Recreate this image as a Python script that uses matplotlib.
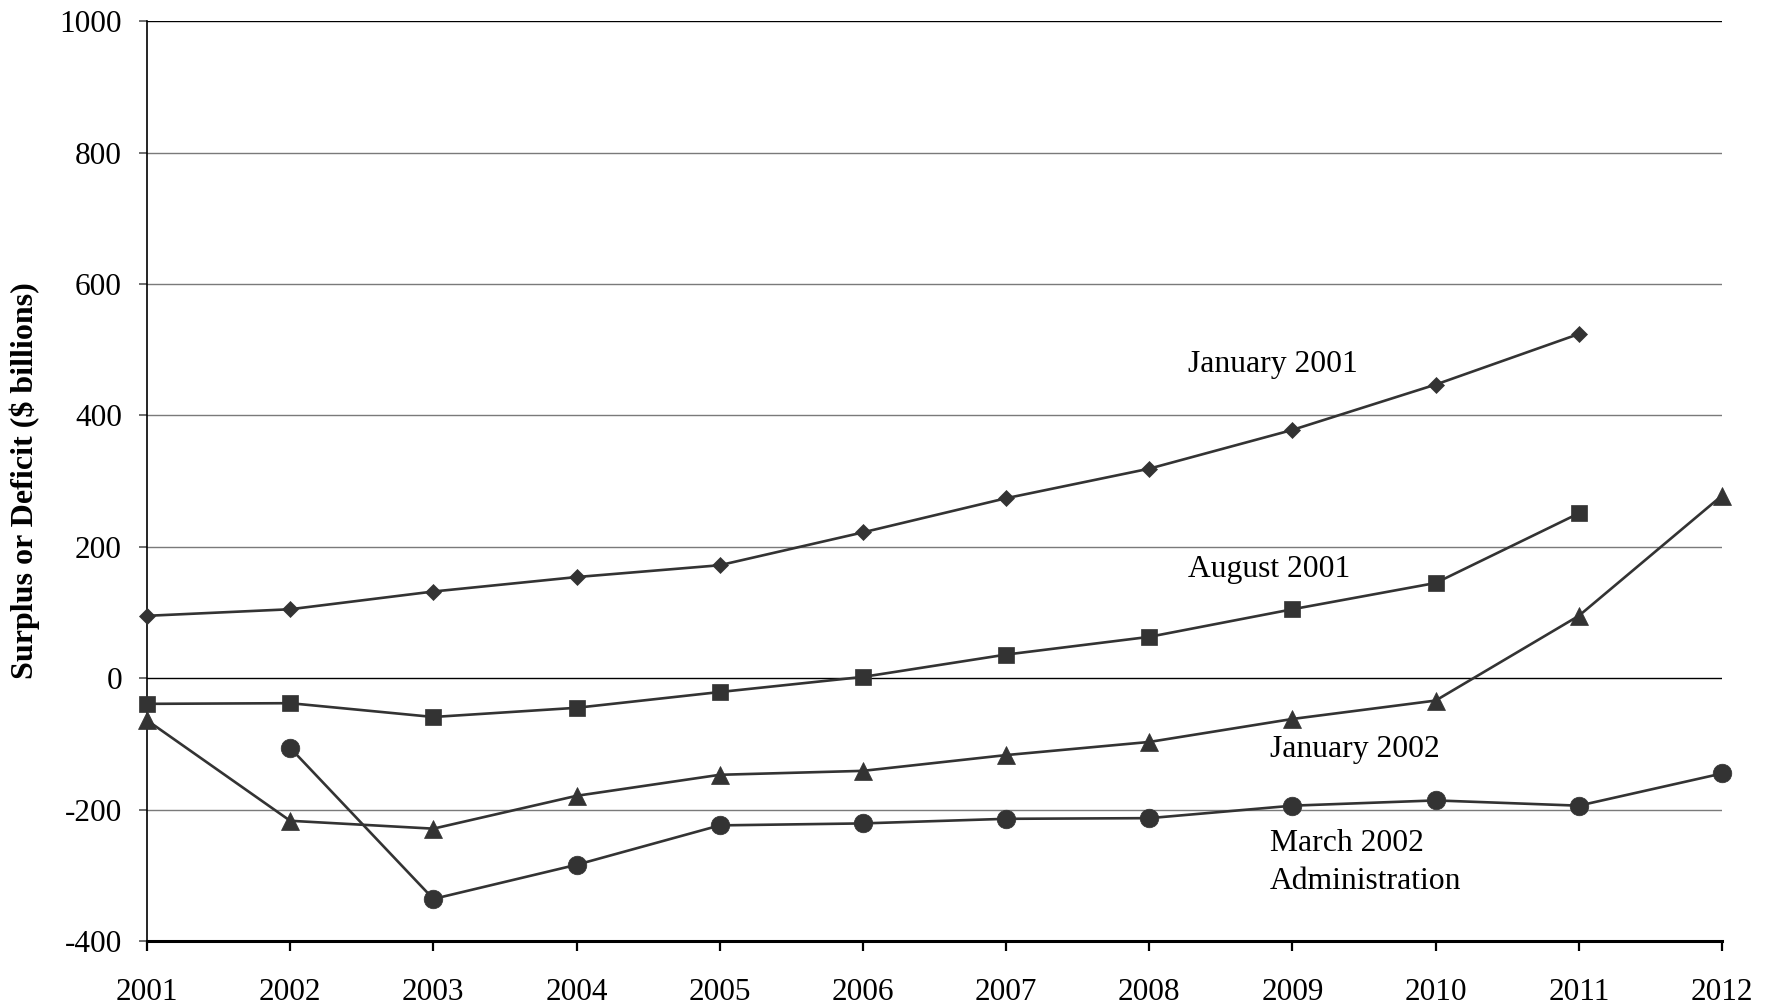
import matplotlib
matplotlib.use("Agg")
import matplotlib.pyplot as plt

years = list(range(2001, 2013))
jan2001 = [95, 105, 132, 154, 172, 222, 274, 319, 378, 447, 524, None]
aug2001 = [-39, -38, -59, -45, -21, 2, 36, 63, 105, 145, 251, None]
jan2002 = [-64, -217, -229, -179, -147, -141, -117, -97, -62, -34, 95, 278]
mar2002 = [None, -106, -336, -284, -224, -221, -214, -213, -194, -186, -194, -145]
yticks = [-400, -200, 0, 200, 400, 600, 800, 1000]
series_labels = ["January 2001", "August 2001", "January 2002", "March 2002\nAdministration"]

plt.rcParams['font.family'] = ['Liberation Serif', 'DejaVu Serif']

fig = plt.figure(figsize=(17.75, 10.06), dpi=100)
ax = fig.add_axes([147/1775, 1-941/1006, (1722-147)/1775, (941-21.3)/1006])

def seg(vals):
    xs = [y for y, v in zip(years, vals) if v is not None]
    ys = [v for v in vals if v is not None]
    return xs, ys

col = '#333333'
for vals, mk, ms in [(jan2001, 'D', 8.6), (aug2001, 's', 11.3), (jan2002, '^', 12.5), (mar2002, 'o', 13.4)]:
    xs, ys = seg(vals)
    ax.plot(xs, ys, color=col, lw=1.9, marker=mk, ms=ms, mfc=col, mec=col, mew=0.5,
            zorder=3, clip_on=False)

ax.set_xlim(2001, 2012)
ax.set_ylim(-400, 1000)
ax.set_yticks(yticks)
ax.set_yticklabels([str(t) for t in yticks])
ax.set_xticks(years)
ax.set_xticklabels([str(y) for y in years])

for t in yticks:
    if t == -400:
        continue
    c = 'black' if t in (0, 1000) else '#7a7a7a'
    ax.axhline(t, color=c, lw=1.0, zorder=1)

for s in ['top', 'right']:
    ax.spines[s].set_visible(False)
ax.spines['left'].set_linewidth(1.2)
ax.spines['bottom'].set_linewidth(2.2)

ax.tick_params(axis='y', length=6, width=1.2, color='#555555', pad=12, labelsize=22.5)
ax.tick_params(axis='x', length=7.5, width=1.6, color='black', pad=19, labelsize=22.5)

fs = 22.8
ax.text(2008.27, 477, series_labels[0], fontsize=fs, ha='left', va='center')
ax.text(2008.27, 165, series_labels[1], fontsize=fs, ha='left', va='center')
ax.text(2008.84, -108, series_labels[2], fontsize=fs, ha='left', va='center')
ax.text(2008.84, -280, series_labels[3], fontsize=fs, ha='left', va='center', linespacing=1.4)

fig.text(25/1775, 1-481/1006, "Surplus or Deficit ($ billions)", rotation=90,
         ha='center', va='center', fontsize=23, fontweight='bold')

fig.savefig("out.png", dpi=100)
